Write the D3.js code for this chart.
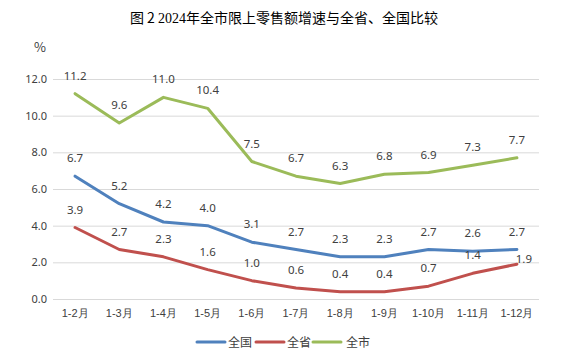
<!DOCTYPE html>
<html><head><meta charset="utf-8">
<script src="https://cdn.jsdelivr.net/npm/d3@7"></script>
<style>
body{margin:0;background:#fff;}
svg{display:block;font-family:"Noto Sans CJK SC","Noto Sans",sans-serif;}
</style></head>
<body><svg id="c" width="574" height="357"></svg>
<script>
const categories = ["1-2月","1-3月","1-4月","1-5月","1-6月","1-7月","1-8月","1-9月","1-10月","1-11月","1-12月"];
const national = [6.7,5.2,4.2,4.0,3.1,2.7,2.3,2.3,2.7,2.6,2.7];
const province = [3.9,2.7,2.3,1.6,1.0,0.6,0.4,0.4,0.7,1.4,1.9];
const city = [11.2,9.6,11.0,10.4,7.5,6.7,6.3,6.8,6.9,7.3,7.7];
const yTicks = [0,2,4,6,8,10,12];
const seriesNames = ["全国","全省","全市"];
const colors = ["#4F81BD","#C0504D","#9BBB59"];

const svg = d3.select("#c");
const x = d3.scaleBand().domain(categories).range([53,539]).padding(0);
const cx = d => x(d) + x.bandwidth()/2;
const y = d3.scaleLinear().domain([0,12]).range([299,79]);
const txt = "#404040";

// title
const title = svg.append("text").attr("x",284).attr("y",23).attr("text-anchor","middle")
  .attr("font-size",14).attr("fill","#000");
title.append("tspan").text("图\u00A02\u00A0");
title.append("tspan").attr("font-family","'Liberation Serif',serif").text("2024");
title.append("tspan").text("年全市限上零售额增速与全省、全国比较");

// % label
svg.append("text").attr("x",40).attr("y",52).attr("text-anchor","middle")
  .attr("font-size",13).attr("fill",txt).text("%");

// grid
svg.append("g").selectAll("line").data(yTicks).join("line")
  .attr("x1",53).attr("x2",539).attr("y1",d=>y(d)+0.5).attr("y2",d=>y(d)+0.5)
  .attr("stroke","#d9d9d9").attr("stroke-width",1);

// y axis
const ya = svg.append("g").attr("transform","translate(47,0)")
  .call(d3.axisLeft(y).tickValues(yTicks).tickFormat(d3.format(".1f")).tickSize(0).tickPadding(0));
ya.select(".domain").remove();
ya.selectAll("text").attr("font-size",11).attr("fill",txt).attr("font-family","'Noto Sans',sans-serif");

// x axis
const xa = svg.append("g").attr("transform","translate(0,306)")
  .call(d3.axisBottom(x).tickSize(0).tickPadding(3));
xa.select(".domain").remove();
xa.selectAll("text").attr("font-size",11).attr("fill",txt);

const all = [national, province, city];
const line = d3.line().x((d,i)=>cx(categories[i])).y(d=>y(d));
all.forEach((s,k)=>{
  svg.append("path").datum(s).attr("d",line).attr("fill","none")
    .attr("stroke",colors[k]).attr("stroke-width",3).attr("stroke-linejoin","round").attr("stroke-linecap","round");
});
all.forEach((s,k)=>{
  svg.append("g").selectAll("text").data(s).join("text")
    .attr("x",(d,i)=> (k===1 && i===s.length-1) ? cx(categories[i])+7 : cx(categories[i]))
    .attr("y",(d,i)=> (k===1 && i===s.length-1) ? y(d)-1 : y(d)-14)
    .attr("text-anchor","middle")
    .attr("font-size",11.5).attr("fill",txt).attr("font-family","'Noto Sans',sans-serif")
    .text(d=>d3.format(".1f")(d));
});

// legend
const leg = [[197,228],[256,287],[313,346]];
seriesNames.forEach((n,k)=>{
  svg.append("line").attr("x1",leg[k][0]).attr("x2",leg[k][0]+28).attr("y1",342).attr("y2",342)
    .attr("stroke",colors[k]).attr("stroke-width",3).attr("stroke-linecap","round");
  svg.append("text").attr("x",leg[k][1]).attr("y",346.5).attr("font-size",12).attr("fill",txt).text(n);
});
</script></body></html>
